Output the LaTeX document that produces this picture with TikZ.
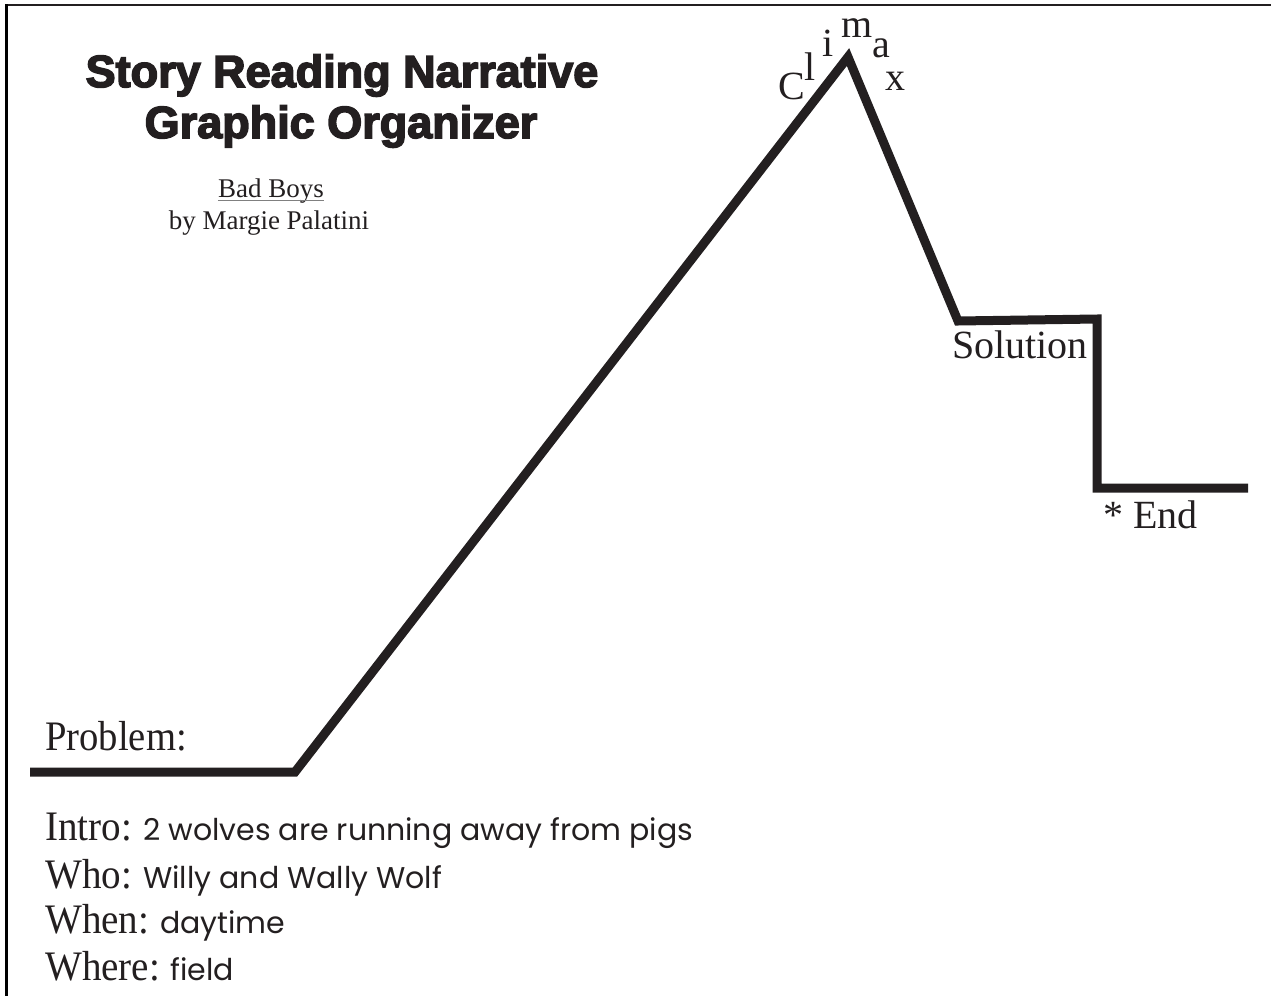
\documentclass[tikz,border=0pt]{standalone}
\usepackage{fontspec}
\usepackage{graphicx}
\setmainfont{Liberation Serif}
\newfontfamily\titlefont[FakeBold=3.5]{Liberation Sans Bold}
\newfontfamily\handfont{Poppins}
\usetikzlibrary{positioning}
\definecolor{ink}{HTML}{231F20}

\tikzset{
  ttl/.style={inner sep=0pt, anchor=base, text=ink, font=\titlefont\fontsize{45}{50}\selectfont},
  book/.style={inner sep=0pt, anchor=base, text=ink, font=\fontsize{27}{30}\selectfont},
  big/.style={inner sep=0pt, anchor=base west, text=ink, font=\fontsize{42}{46}\selectfont},
  mid/.style={inner sep=0pt, anchor=base west, text=ink, font=\fontsize{40}{42}\selectfont},
  hand/.style={inner sep=0pt, anchor=base west, text=ink, font=\handfont\fontsize{30}{34}\selectfont},
  plot/.style={draw=ink, line width=9pt, line join=miter}
}

\begin{document}
\begin{tikzpicture}[x=1pt, y=-1pt]
\useasboundingbox (0,0) rectangle (1271,996);
% frame
\draw[line width=2pt, ink] (5,5) -- (1271,5);
\draw[line width=3pt] (6,4) -- (6,996);

% title
\node[ttl] (t1) at (342,87) {Story Reading Narrative};
\node[ttl] (t2) at (341,138) {Graphic Organizer};
\node[book] (bad) at (271,197) {Bad Boys};
\node[book] (by) at (269,229) {by Margie Palatini};
\draw[gray, line width=0.8pt] ([yshift=-3pt]bad.base west) -- ([yshift=-3pt]bad.base east);

% story line
\coordinate (a) at (30,772);
\coordinate (b) at (295,772);
\coordinate (c) at (848,57);
\coordinate (d) at (958,321);
\coordinate (e) at (1097,319);
\coordinate (f) at (1097,488);
\coordinate (g) at (1248,488);
\draw[plot] (a) -- (b) -- (c) -- (d) -- (e) -- (f) -- (g);

% climax
\node[mid] (c1) at (778,99) {C};
\node[mid] (c2) at (804,80) {l};
\node[mid] (c3) at (822,56) {i};
\node[mid] (c4) at (841,37) {m};
\node[mid] (c5) at (872,57) {a};
\node[mid] (c6) at (885,90) {x};

\node[mid] (sol) at (952,358) {Solution};
\node[mid] (end) at (1103,528) {* End};
\node[big] (prob) at (45,750) {\scalebox{0.92}[1]{Problem:}};

% story elements
\node[big] (intro) at (45,840) {\scalebox{0.93}[1]{Intro:}};
\node[hand] (introtxt) at (143,840) {2 wolves are running away from pigs};
\node[big] (who) at (45,888) {\scalebox{0.93}[1]{Who:}};
\node[hand] (whotxt) at (143,888) {Willy and Wally Wolf};
\node[big] (when) at (45,933) {\scalebox{0.93}[1]{When:}};
\node[hand] (whentxt) at (160,933) {daytime};
\node[big] (where) at (45,980) {\scalebox{0.93}[1]{Where:}};
\node[hand] (wheretxt) at (170,980) {field};
\end{tikzpicture}
\end{document}
